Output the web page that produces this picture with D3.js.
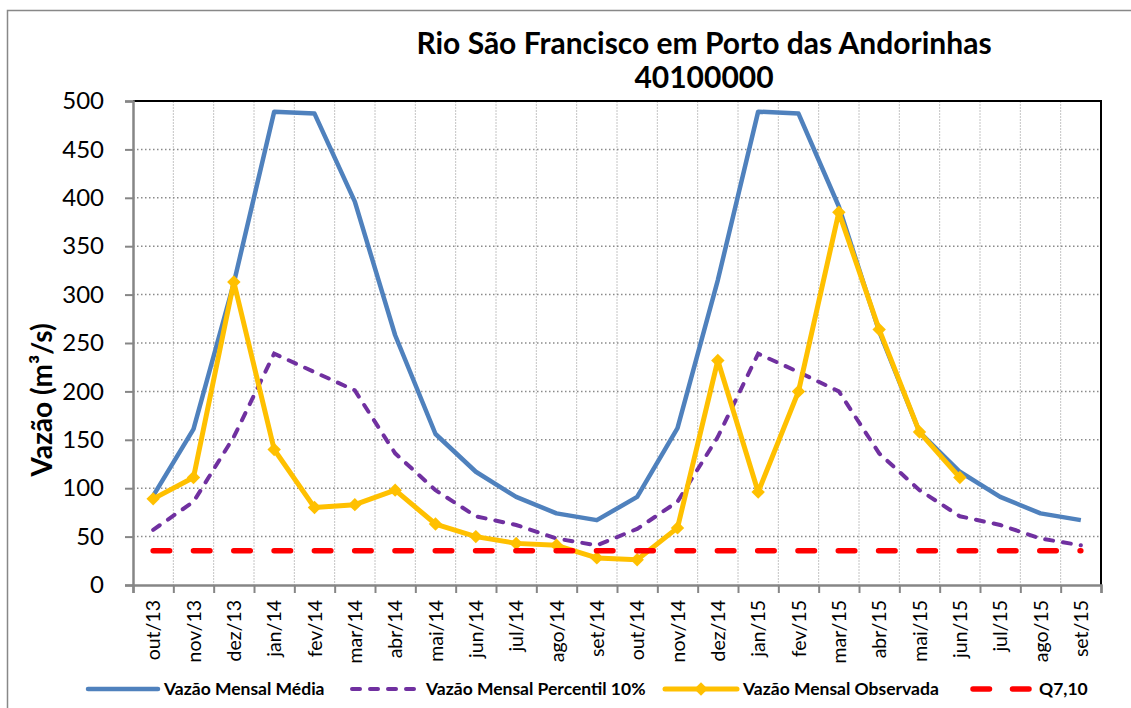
<!DOCTYPE html>
<html>
<head>
<meta charset="utf-8">
<script src="https://cdn.jsdelivr.net/npm/d3@7"></script>
<style>
  body { margin: 0; background: #fff; }
  svg { display: block; font-family: Lato, "Open Sans", sans-serif; }
</style>
</head>
<body>
<svg width="1131" height="708"></svg>
<script>
// data
var months = ["out/13", "nov/13", "dez/13", "jan/14", "fev/14", "mar/14", "abr/14", "mai/14",
  "jun/14", "jul/14", "ago/14", "set/14", "out/14", "nov/14", "dez/14", "jan/15",
  "fev/15", "mar/15", "abr/15", "mai/15", "jun/15", "jul/15", "ago/15", "set/15"];
var media = [92, 161, 312, 489, 487, 396, 258, 156, 117, 91, 74, 67,
  91, 162, 315, 489, 487, 391, 262, 158, 117, 91, 74, 67];
var percentil = [57, 86, 153, 239, 220, 201, 136, 98, 71, 62, 48, 41,
  58, 86, 153, 239, 220, 200, 136, 98, 71, 62, 48, 41];
var observada = [89, 111, 313, 140, 80, 83, 98, 63, 50, 43, 41, 28,
  26, 59, 232, 96, 200, 385, 264, 158, 111, null, null, null];
var q710 = 35.5;
var yTicks = [0, 50, 100, 150, 200, 250, 300, 350, 400, 450, 500];

var svg = d3.select("svg");

// plot area edges
var pLeft = 133, pRight = 1101, pTop = 101, pBottom = 585;

var x = d3.scaleBand().domain(months).range([pLeft, pRight]);
var xEdge = d3.scaleLinear().domain([0, months.length]).range([pLeft, pRight]);
var y = d3.scaleLinear().domain([0, 500]).range([pBottom, pTop]);
var cx = function (m) { return x(m) + x.bandwidth() / 2; };

// outer chart border (cut off at right/bottom)
svg.append("rect")
  .attr("x", 7.5).attr("y", 10.5)
  .attr("width", 1140).attr("height", 720)
  .attr("fill", "none").attr("stroke", "#888").attr("stroke-width", 1.5);

// vertical grid at category edges
svg.append("g").selectAll("line")
  .data(d3.range(1, months.length))
  .enter().append("line")
  .attr("x1", function (d) { return xEdge(d); })
  .attr("x2", function (d) { return xEdge(d); })
  .attr("y1", pTop).attr("y2", pBottom)
  .attr("stroke", "#c4c4c4").attr("stroke-width", 1)
  .attr("stroke-dasharray", "2,1");

// horizontal grid
svg.append("g").selectAll("line")
  .data(yTicks.slice(1, -1))
  .enter().append("line")
  .attr("x1", pLeft).attr("x2", pRight)
  .attr("y1", function (d) { return y(d); })
  .attr("y2", function (d) { return y(d); })
  .attr("stroke", "#8a8a8a").attr("stroke-width", 1.5)
  .attr("stroke-dasharray", "1.5,2.5");

// plot area border (top and right black)
svg.append("line")
  .attr("x1", pLeft).attr("x2", pRight + 1).attr("y1", pTop).attr("y2", pTop)
  .attr("stroke", "#000").attr("stroke-width", 2);
svg.append("line")
  .attr("x1", pRight).attr("x2", pRight).attr("y1", pTop).attr("y2", pBottom)
  .attr("stroke", "#000").attr("stroke-width", 2);

// y axis
var yaxis = svg.append("g")
  .attr("transform", "translate(" + pLeft + ",0)")
  .call(d3.axisLeft(y).tickValues(yTicks).tickSize(8).tickPadding(21));
yaxis.select(".domain").attr("stroke", "#868686").attr("stroke-width", 2.5);
yaxis.selectAll(".tick line").attr("stroke", "#868686").attr("stroke-width", 2);
yaxis.selectAll("text")
  .attr("font-size", "24px").attr("fill", "#000")
  .attr("font-family", "Lato, sans-serif");

// x axis: ticks at category edges
var xticks = svg.append("g")
  .attr("transform", "translate(0," + pBottom + ")")
  .call(d3.axisBottom(xEdge).tickValues(d3.range(months.length + 1)).tickFormat("").tickSize(8));
xticks.select(".domain").attr("stroke", "#868686").attr("stroke-width", 2.5);
xticks.selectAll(".tick line").attr("stroke", "#868686").attr("stroke-width", 2);

// x labels, rotated
var xlabels = svg.append("g")
  .attr("transform", "translate(0," + pBottom + ")")
  .call(d3.axisBottom(x).tickSize(0).tickPadding(0));
xlabels.select(".domain").remove();
xlabels.selectAll("text")
  .attr("transform", "rotate(-90)")
  .attr("text-anchor", "end")
  .attr("x", -15).attr("y", 0).attr("dy", "0.36em")
  .attr("font-size", "19.5px").attr("fill", "#000")
  .attr("font-family", "Lato, sans-serif");

// series
var line = d3.line()
  .defined(function (d) { return d.v != null; })
  .x(function (d) { return cx(d.m); })
  .y(function (d) { return y(d.v); });

function pairs(arr) {
  return months.map(function (m, i) { return { m: m, v: arr[i] }; });
}

svg.append("path")
  .datum(pairs(media))
  .attr("d", line)
  .attr("fill", "none").attr("stroke", "#4F81BD").attr("stroke-width", 4.5)
  .attr("stroke-linejoin", "round");

svg.append("path")
  .datum(pairs(percentil))
  .attr("d", line)
  .attr("fill", "none").attr("stroke", "#7030A0").attr("stroke-width", 4)
  .attr("stroke-linecap", "round").attr("stroke-dasharray", "8,10");

svg.append("path")
  .datum(pairs(observada))
  .attr("d", line)
  .attr("fill", "none").attr("stroke", "#FFC000").attr("stroke-width", 5)
  .attr("stroke-linejoin", "round");

svg.append("g").selectAll("path")
  .data(pairs(observada).filter(function (d) { return d.v != null; }))
  .enter().append("path")
  .attr("d", d3.symbol(d3.symbolSquare, 90))
  .attr("transform", function (d) { return "translate(" + cx(d.m) + "," + y(d.v) + ") rotate(45)"; })
  .attr("fill", "#FFC000");

svg.append("path")
  .datum(months.map(function (m) { return { m: m, v: q710 }; }))
  .attr("d", line)
  .attr("fill", "none").attr("stroke", "#FF0000").attr("stroke-width", 5.5)
  .attr("stroke-linecap", "round").attr("stroke-dasharray", "16.5,23.8");

// titles
svg.append("text")
  .attr("x", 704).attr("y", 54)
  .attr("text-anchor", "middle")
  .attr("font-size", "30px").attr("font-weight", "bold")
  .text("Rio São Francisco em Porto das Andorinhas");
svg.append("text")
  .attr("x", 704).attr("y", 88)
  .attr("text-anchor", "middle")
  .attr("font-size", "30px").attr("font-weight", "bold")
  .text("40100000");

svg.append("text")
  .attr("transform", "translate(52,400) rotate(-90)")
  .attr("text-anchor", "middle")
  .attr("font-size", "28px").attr("font-weight", "bold")
  .text("Vazão (m³/s)");

// legend
var ly = 689;
var lg = svg.append("g").attr("font-size", "17.5px").attr("font-weight", "bold");

lg.append("line").attr("x1", 88).attr("x2", 158).attr("y1", ly).attr("y2", ly)
  .attr("stroke", "#4F81BD").attr("stroke-width", 4.5).attr("stroke-linecap", "round");
lg.append("text").attr("x", 164).attr("y", ly).attr("dy", "0.35em").text("Vazão Mensal Média");

lg.append("line").attr("x1", 352).attr("x2", 420).attr("y1", ly).attr("y2", ly)
  .attr("stroke", "#7030A0").attr("stroke-width", 4)
  .attr("stroke-linecap", "round").attr("stroke-dasharray", "8,10");
lg.append("text").attr("x", 426).attr("y", ly).attr("dy", "0.35em").text("Vazão Mensal Percentil 10%");

lg.append("line").attr("x1", 665).attr("x2", 737).attr("y1", ly).attr("y2", ly)
  .attr("stroke", "#FFC000").attr("stroke-width", 5).attr("stroke-linecap", "round");
lg.append("path")
  .attr("d", d3.symbol(d3.symbolSquare, 90))
  .attr("transform", "translate(701," + ly + ") rotate(45)")
  .attr("fill", "#FFC000");
lg.append("text").attr("x", 743).attr("y", ly).attr("dy", "0.35em").text("Vazão Mensal Observada");

lg.append("line").attr("x1", 973).attr("x2", 1033).attr("y1", ly).attr("y2", ly)
  .attr("stroke", "#FF0000").attr("stroke-width", 5.5)
  .attr("stroke-linecap", "round").attr("stroke-dasharray", "16.5,23");
lg.append("text").attr("x", 1039).attr("y", ly).attr("dy", "0.35em").text("Q7,10");
</script>
</body>
</html>
